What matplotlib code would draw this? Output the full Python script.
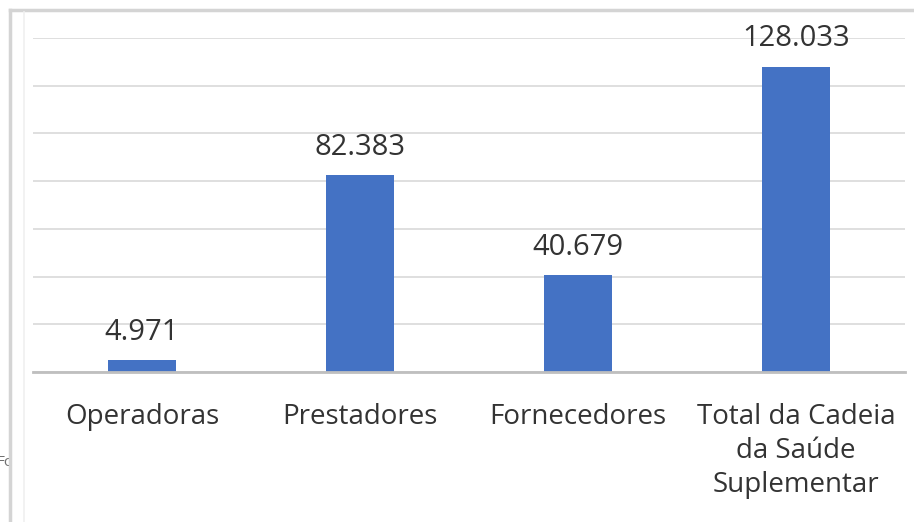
import matplotlib.pyplot as plt
from matplotlib.patches import Rectangle
from matplotlib.lines import Line2D

categorias = ['Operadoras', 'Prestadores', 'Fornecedores',
              'Total da Cadeia\nda Saúde\nSuplementar']
valores = [4971, 82383, 40679, 128033]
rotulos = ['4.971', '82.383', '40.679', '128.033']

plt.rcParams['font.family'] = ['Open Sans', 'DejaVu Sans']

fig = plt.figure(figsize=(9.14, 5.22), dpi=100)
W, H = 914, 522

# texto cortado na esquerda ("Fonte") coberto pelo painel branco
fig.text(-0.004, 1 - 462 / H, 'Fonte', fontsize=11, color='#707070',
         va='center', ha='left', zorder=0.1)
fig.patches.append(Rectangle((11 / W, 0), 1, 1 - 10 / H, transform=fig.transFigure,
                             facecolor='white', edgecolor='none', zorder=0.2))
# bordas cinzas do painel
fig.lines.append(Line2D([10 / W, 1], [1 - 10 / H, 1 - 10 / H], transform=fig.transFigure,
                        color='#d4d4d4', lw=2.5, zorder=0.3))
fig.lines.append(Line2D([10 / W, 10 / W], [0, 1 - 10 / H], transform=fig.transFigure,
                        color='#d4d4d4', lw=2.5, zorder=0.3))
fig.lines.append(Line2D([24 / W, 24 / W], [0, 1 - 12 / H], transform=fig.transFigure,
                        color='#f0f0f0', lw=1.2, zorder=0.3))

ax = fig.add_axes([33 / W, 1 - 372 / H, 872 / W, 334 / H])
ax.set_zorder(1)
ax.patch.set_alpha(0)

x = range(len(categorias))
barras = ax.bar(x, valores, width=0.31, color='#4472C4', zorder=2)

for b, r in zip(barras, rotulos):
    ax.text(b.get_x() + b.get_width() / 2, b.get_height() + 5500, r,
            ha='center', va='bottom', fontsize=21, color='#333333')

ax.set_xlim(-0.5, 3.5)
ax.set_ylim(0, 140000)
ax.set_yticks(range(0, 140001, 20000))
ax.yaxis.grid(True, color='#d9d9d9', lw=1.2)
ax.set_axisbelow(True)
ax.tick_params(axis='y', left=False, labelleft=False)
ax.tick_params(axis='x', length=0, pad=22, labelsize=20, labelcolor='#333333')
ax.set_xticks(list(x))
ax.set_xticklabels(categorias, linespacing=1.3, va='top')

for s in ['top', 'right', 'left']:
    ax.spines[s].set_visible(False)
ax.spines['bottom'].set_color('#bfbfbf')
ax.spines['bottom'].set_linewidth(2)

fig.savefig('out.png', dpi=100)
